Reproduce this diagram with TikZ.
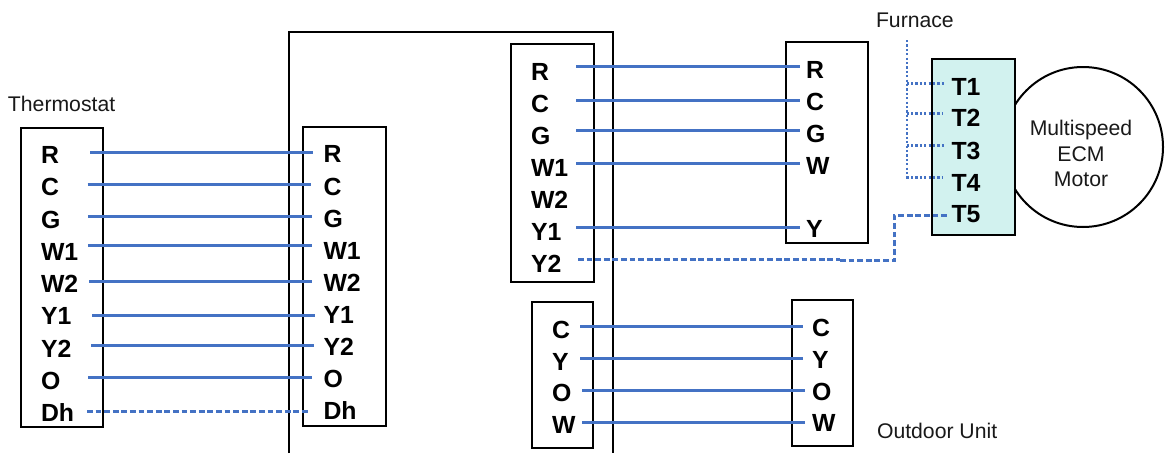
\documentclass[tikz,border=0pt]{standalone}
\usepackage{fontspec}
\setmainfont{Liberation Sans}
\definecolor{wireblue}{HTML}{4472C4}
\definecolor{panelfill}{HTML}{D2F2EF}
\tikzset{
  x=1pt,y=-1pt,
  boxshape/.style={draw=black,line width=2pt,fill=white,inner sep=0pt,outer sep=0pt},
  pin/.style={anchor=base west,inner sep=0pt,outer sep=0pt,text=black,font=\fontsize{24.8}{28}\bfseries\selectfont},
  caption/.style={anchor=base west,inner sep=0pt,outer sep=0pt,text=black!90,font=\fontsize{21.2}{25.5}\selectfont},
  wire/.style={draw=wireblue,line width=2.3pt},
  dashwire/.style={wire,dash pattern=on 5.7pt off 2.9pt},
  dotwire/.style={draw=wireblue,line width=2.1pt,dash pattern=on 2.2pt off 2.2pt},
  framewall/.style={draw=black,line width=2.6pt}
}
% #1 style, #2 name, #3 x-left, #4 x-right, #5 y
\newcommand{\wirerun}[5]{%
  \coordinate (#2a) at (#3,#5);
  \coordinate (#2b) at (#4,#5);
  \draw[#1] (#2a) -- (#2b);}
% #1 extra style, #2 name, #3 x0, #4 y0, #5 x1, #6 y1
\newcommand{\boxat}[6][]{%
  \path let \n1={#5-(#3)},\n2={#6-(#4)} in
    node[boxshape,#1,minimum width=\n1 pt,minimum height=\n2 pt,anchor=north west] (#2) at (#3,#4) {};}
\newcommand{\pinat}[4]{\node[pin] (#1) at (#2,#3) {#4};}
\usetikzlibrary{calc}
\begin{document}
\begin{tikzpicture}
\useasboundingbox (0,0) rectangle (1169,453);
\fill[white] (0,0) rectangle (1169,453);

% enclosure
\coordinate (fa) at (289,453);
\coordinate (fb) at (289,32);
\coordinate (fc) at (613,32);
\coordinate (fd) at (613,453);
\draw[framewall] (fa) -- (fb) -- (fc) -- (fd);

% boxes
\boxat{therm}{21}{128}{103}{427}
\boxat{inner}{303}{127}{386}{426}
\boxat{upper}{511}{43.5}{593.5}{281.5}
\boxat{furn}{786}{42}{868}{243}
\boxat{lower}{532}{302}{593}{448}
\boxat{outd}{792}{300}{853}{446}
\node[draw=black,line width=2pt,fill=white,circle,minimum size=160pt,inner sep=0pt,outer sep=0pt] (motor) at (1083,147) {};
\boxat[fill=panelfill]{tbox}{931.5}{59}{1014.5}{234.5}

% captions
\node[caption] (cthermo) at (8,111.7) {Thermostat};
\node[caption] (cfurn) at (876,27) {Furnace};
\node[caption] (coutd) at (877,438) {Outdoor Unit};
\node[caption,anchor=center,align=center] (cmotor) at (1081,153.5) {Multispeed\\ECM\\Motor};

% thermostat pins
\pinat{t1}{41}{163}{R}\pinat{t2}{41}{195.5}{C}\pinat{t3}{41}{228}{G}
\pinat{t4}{41}{260}{W1}\pinat{t5}{41}{292}{W2}\pinat{t6}{41}{324.5}{Y1}
\pinat{t7}{41}{357}{Y2}\pinat{t8}{41}{389}{O}\pinat{t9}{41}{421}{Dh}
% inner pins
\pinat{i1}{323.5}{162.5}{R}\pinat{i2}{323.5}{195}{C}\pinat{i3}{323.5}{227}{G}
\pinat{i4}{323.5}{259}{W1}\pinat{i5}{323.5}{291}{W2}\pinat{i6}{323.5}{323}{Y1}
\pinat{i7}{323.5}{355}{Y2}\pinat{i8}{323.5}{387}{O}\pinat{i9}{323.5}{419}{Dh}
% upper pins
\pinat{u1}{531}{80}{R}\pinat{u2}{531}{112}{C}\pinat{u3}{531}{144}{G}
\pinat{u4}{531}{176}{W1}\pinat{u5}{531}{208}{W2}\pinat{u6}{531}{240}{Y1}\pinat{u7}{531}{272}{Y2}
% furnace pins
\pinat{f1}{806}{78}{R}\pinat{f2}{806}{110.5}{C}\pinat{f3}{806}{142.5}{G}
\pinat{f4}{806}{174}{W}\pinat{f5}{806}{237.5}{Y}
% lower pins
\pinat{l1}{552}{338}{C}\pinat{l2}{552}{370}{Y}\pinat{l3}{552}{401.5}{O}\pinat{l4}{552}{433}{W}
% outdoor pins
\pinat{o1}{812}{336}{C}\pinat{o2}{812}{368}{Y}\pinat{o3}{812}{400}{O}\pinat{o4}{812}{431.5}{W}
% terminal pins
\pinat{p1}{951.5}{95}{T1}\pinat{p2}{951.5}{126.7}{T2}\pinat{p3}{951.5}{159.3}{T3}
\pinat{p4}{951.5}{191}{T4}\pinat{p5}{951.5}{222.7}{T5}

% thermostat to inner
\wirerun{wire}{wa}{90}{313}{152.6}
\wirerun{wire}{wb}{87.5}{311}{184.6}
\wirerun{wire}{wc}{88}{312}{216.6}
\wirerun{wire}{wd}{88}{312}{245.4}
\wirerun{wire}{we}{89}{312}{281.6}
\wirerun{wire}{wf}{92}{315}{315.4}
\wirerun{wire}{wg}{91}{314}{345.4}
\wirerun{wire}{wh}{88}{312}{377.4}
\wirerun{dashwire}{wi}{87}{309}{411.4}
% upper to furnace
\wirerun{wire}{ua}{576}{800}{66.6}
\wirerun{wire}{ub}{576}{800}{100.4}
\wirerun{wire}{uc}{576}{800}{130.6}
\wirerun{wire}{ud}{576}{800}{163.4}
\wirerun{wire}{ue}{576}{800}{227.4}
% Y2 to T5
\coordinate (ys) at (578,259.4);
\coordinate (yt) at (840,259.4);
\coordinate (yu) at (840,260.4);
\coordinate (yv) at (894.4,260.4);
\coordinate (yw) at (894.4,215.4);
\coordinate (yx) at (949,215.4);
\draw[dashwire] (ys) -- (yt);
\draw[dashwire] (yu) -- (yv) -- (yw) -- (yx);
% lower to outdoor
\wirerun{wire}{la}{580}{803}{326.5}
\wirerun{wire}{lb}{580}{803}{358.5}
\wirerun{wire}{lc}{582}{805}{390.5}
\wirerun{wire}{ld}{582}{805}{422.5}
% furnace dotted feed
\coordinate (da) at (906.6,40);
\coordinate (db) at (906.6,180);
\draw[dotwire] (da) -- (db);
\coordinate (d1) at (906.6,83.5);\coordinate (e1) at (945,83.5);\draw[dotwire] (d1) -- (e1);
\coordinate (d2) at (906.6,113.5);\coordinate (e2) at (943,113.5);\draw[dotwire] (d2) -- (e2);
\coordinate (d3) at (906.6,145.5);\coordinate (e3) at (945,145.5);\draw[dotwire] (d3) -- (e3);
\coordinate (d4) at (906.6,177.5);\coordinate (e4) at (943,177.5);\draw[dotwire] (d4) -- (e4);
\end{tikzpicture}
\end{document}
